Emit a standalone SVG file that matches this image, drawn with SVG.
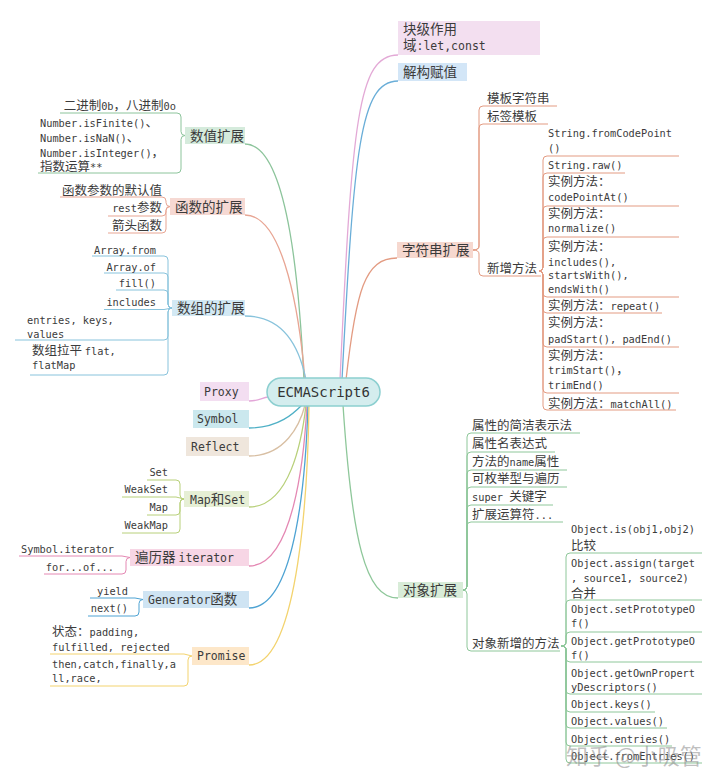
<svg xmlns="http://www.w3.org/2000/svg" width="720" height="784" viewBox="0 0 720 784">
<style>
.m{font-family:"DejaVu Sans Mono","Noto Sans CJK SC",monospace;font-size:11.5px;fill:#3b3b3b}
.l{font-family:"DejaVu Sans Mono","Noto Sans CJK SC",monospace;font-size:10.3px;fill:#3b3b3b}
.m .c,.mc{font-family:"Noto Sans CJK SC",sans-serif;font-size:13.5px;fill:#3b3b3b}
.l .c,.lc{font-family:"Noto Sans CJK SC",sans-serif;font-size:12.5px;fill:#3b3b3b}
.e{text-anchor:end}
.k{fill:none;stroke-width:1.3}
.b{fill:none;stroke-width:1}
.ctr{font-family:"DejaVu Sans Mono",monospace;font-size:14px;fill:#333;text-anchor:middle}
</style>
<rect width="720" height="784" fill="#fff"/>
<g id="connectors">
  <path class="k" stroke="#e3a9d6" d="M340 380 C352 120 358 55 398 55"/>
  <path class="k" stroke="#6aaed8" d="M342 380 C354 150 360 81 398 81"/>
  <path class="k" stroke="#e39b82" d="M346 380 C356 290 365 258 397 258"/>
  <path class="k" stroke="#8ec79a" d="M343 405 C352 540 365 598 398 598"/>
  <path class="k" stroke="#8cc49b" d="M245 144 C290 144 300 300 304 380"/>
  <path class="k" stroke="#e8a593" d="M245 215 C285 215 300 320 305 380"/>
  <path class="k" stroke="#88c3dc" d="M245 316 C285 316 300 350 306 380"/>
  <path class="k" stroke="#e3a6d8" d="M249 401 C258 401 262 398 268 397"/>
  <path class="k" stroke="#4fb0c6" d="M249 428 C280 428 295 412 303 404"/>
  <path class="k" stroke="#d8bfa3" d="M249 456 C285 456 300 425 305 405"/>
  <path class="k" stroke="#b8d07a" d="M249 507 C290 507 302 440 306 405"/>
  <path class="k" stroke="#e488b3" d="M249 566 C293 566 304 460 307 405"/>
  <path class="k" stroke="#4ea3d3" d="M249 608 C297 608 306 470 308 405"/>
  <path class="k" stroke="#f3d36e" d="M249 665 C300 665 308 480 309 405"/>
  <!-- 数值扩展 -->
  <g stroke="#8cc49b">
    <path class="b" d="M185 135.5 Q181 135.5 181 131.5 L181 117 Q181 113 177 113 H60"/>
    <path class="b" d="M185 135.5 Q181 135.5 181 139.5 L181 169 Q181 173 177 173 H38"/>
  </g>
  <!-- 函数的扩展 -->
  <g stroke="#e8a593">
    <path class="b" d="M170 206.5 Q166 206.5 166 202.5 L166 201 Q166 197 162 197 H60"/>
    <path class="b" d="M170 206.5 Q166 206.5 166 210.5 L166 212 Q166 216 162 216 H108"/>
    <path class="b" d="M170 206.5 Q166 206.5 166 210.5 L166 229 Q166 233 162 233 H108"/>
  </g>
  <!-- 数组的扩展 -->
  <g stroke="#88c3dc">
    <path class="b" d="M172 308 Q168 308 168 304 L168 260 Q168 256 164 256 H92"/>
    <path class="b" d="M172 308 Q168 308 168 304 L168 277 Q168 273 164 273 H104"/>
    <path class="b" d="M172 308 Q168 308 168 304 L168 294 Q168 290 164 290 H116"/>
    <path class="b" d="M172 308 L164 309.5 H104"/>
    <path class="b" d="M172 308 Q168 308 168 312 L168 336 Q168 340 164 340 H15"/>
    <path class="b" d="M172 308 Q168 308 168 312 L168 371 Q168 375 164 375 H30"/>
  </g>
  <!-- Map和Set -->
  <g stroke="#b8d07a">
    <path class="b" d="M184 499 Q180 499 180 495 L180 484 Q180 480 176 480 H147"/>
    <path class="b" d="M184 499 L176 497 H122"/>
    <path class="b" d="M184 499 Q180 499 180 503 L180 511 Q180 515 176 515 H147"/>
    <path class="b" d="M184 499 Q180 499 180 503 L180 529 Q180 533 176 533 H122"/>
  </g>
  <!-- 遍历器 -->
  <g stroke="#e488b3">
    <path class="b" d="M130 557.5 L122 556 H19"/>
    <path class="b" d="M130 557.5 Q126 557.5 126 561.5 L126 570 Q126 574 122 574 H44"/>
  </g>
  <!-- Generator -->
  <g stroke="#4ea3d3">
    <path class="b" d="M143 599.5 L135 598 H90"/>
    <path class="b" d="M143 599.5 Q139 599.5 139 603.5 L139 612 Q139 616 135 616 H88"/>
  </g>
  <!-- Promise -->
  <g stroke="#f3d36e">
    <path class="b" d="M192 656 L184 654 H50"/>
    <path class="b" d="M192 656 Q188 656 188 660 L188 682 Q188 686 184 686 H50"/>
  </g>
  <!-- 字符串扩展 -->
  <g stroke="#e39b82">
    <path class="b" d="M473 250 Q479 250 479 246 L479 110 Q479 106 483 106 H557"/>
    <path class="b" d="M473 250 Q479 250 479 246 L479 128 Q479 124 483 124 H548"/>
    <path class="b" d="M473 250 Q479 250 479 254 L479 272 Q479 276 483 276 H541"/>
    <path class="b" d="M539 271 Q543 271 543 267 L543 160 Q543 156 547 156 H679"/>
    <path class="b" d="M539 271 Q543 271 543 267 L543 177 Q543 173 547 173 H625"/>
    <path class="b" d="M539 271 Q543 271 543 267 L543 210 Q543 206 547 206 H679"/>
    <path class="b" d="M539 271 Q543 271 543 267 L543 241 Q543 237 547 237 H679"/>
    <path class="b" d="M539 271 Q543 271 543 275 L543 293 Q543 297 547 297 H679"/>
    <path class="b" d="M539 271 Q543 271 543 275 L543 309 Q543 313 547 313 H662"/>
    <path class="b" d="M539 271 Q543 271 543 275 L543 343 Q543 347 547 347 H679"/>
    <path class="b" d="M539 271 Q543 271 543 275 L543 389 Q543 393 547 393 H679"/>
    <path class="b" d="M539 271 Q543 271 543 275 L543 406 Q543 410 547 410 H676"/>
  </g>
  <!-- 对象扩展 -->
  <g stroke="#8ec79a">
    <path class="b" d="M463 590 Q467 590 467 586 L467 437 Q467 433 471 433 H580"/>
    <path class="b" d="M463 590 Q467 590 467 586 L467 456 Q467 452 471 452 H555"/>
    <path class="b" d="M463 590 Q467 590 467 586 L467 474 Q467 470 471 470 H567"/>
    <path class="b" d="M463 590 Q467 590 467 586 L467 491 Q467 487 471 487 H567"/>
    <path class="b" d="M463 590 Q467 590 467 586 L467 509 Q467 505 471 505 H553"/>
    <path class="b" d="M463 590 Q467 590 467 586 L467 526 Q467 522 471 522 H563"/>
    <path class="b" d="M463 590 Q467 590 467 594 L467 647 Q467 651 471 651 H560"/>
    <path class="b" d="M561 646 Q566 646 566 642 L566 557 Q566 553 570 553 H702"/>
    <path class="b" d="M561 646 Q566 646 566 642 L566 604 Q566 600 570 600 H702"/>
    <path class="b" d="M561 646 Q566 646 566 642 L566 636 Q566 632 570 632 H702"/>
    <path class="b" d="M561 646 Q566 646 566 650 L566 658 Q566 662 570 662 H702"/>
    <path class="b" d="M561 646 Q566 646 566 650 L566 690 Q566 694 570 694 H702"/>
    <path class="b" d="M561 646 Q566 646 566 650 L566 708 Q566 712 570 712 H655"/>
    <path class="b" d="M561 646 Q566 646 566 650 L566 724 Q566 728 570 728 H667"/>
    <path class="b" d="M561 646 Q566 646 566 650 L566 742 Q566 746 570 746 H672"/>
    <path class="b" d="M561 646 Q566 646 566 650 L566 759 Q566 763 570 763 H702"/>
  </g>
</g>
<g id="root">
  <rect x="267" y="378" width="113" height="28" rx="14" fill="#d4edee" stroke="#8ccfd0" stroke-width="1.5"/>
  <text class="ctr" x="323.5" y="397">ECMAScript6</text>
</g>
<g id="block-scope">
  <rect x="398" y="21" width="142" height="34" fill="#f3dff0"/>
  <text class="mc" x="403" y="34">块级作用</text>
  <text class="m" x="403" y="50"><tspan class="c">域</tspan>:let,const</text>
</g>
<g id="destructuring">
  <rect x="398" y="63" width="69" height="18" fill="#d3e6f7"/>
  <text class="mc" x="403" y="77">解构赋值</text>
</g>
<g id="string-ext">
  <rect x="397" y="242" width="76" height="16" fill="#f6d8cf"/>
  <text class="mc" x="402" y="255">字符串扩展</text>
  <text class="lc" x="487" y="102.5">模板字符串</text>
  <text class="lc" x="487" y="120.5">标签模板</text>
  <text class="lc" x="487" y="272.5">新增方法</text>
  <text class="l" x="548" y="136.5">String.fromCodePoint</text>
  <text class="l" x="548" y="151.5">()</text>
  <text class="l" x="548" y="168.5">String.raw()</text>
  <text class="lc" x="548" y="185.5">实例方法：</text>
  <text class="l" x="548" y="200.5">codePointAt()</text>
  <text class="lc" x="548" y="217.5">实例方法：</text>
  <text class="l" x="548" y="231.5">normalize()</text>
  <text class="lc" x="548" y="250.5">实例方法：</text>
  <text class="l" x="548" y="265.5">includes(),</text>
  <text class="l" x="548" y="278.5">startsWith(),</text>
  <text class="l" x="548" y="292.5">endsWith()</text>
  <text class="l" x="548" y="309.5"><tspan class="c">实例方法：</tspan>repeat()</text>
  <text class="lc" x="548" y="326.5">实例方法：</text>
  <text class="l" x="548" y="342.5">padStart(), padEnd()</text>
  <text class="lc" x="548" y="359.5">实例方法：</text>
  <text class="l" x="548" y="373.5">trimStart()<tspan class="c">，</tspan></text>
  <text class="l" x="548" y="388.5">trimEnd()</text>
  <text class="l" x="548" y="407.5"><tspan class="c">实例方法：</tspan>matchAll()</text>
</g>
<g id="object-ext">
  <rect x="398" y="582" width="65" height="16" fill="#d8ecd8"/>
  <text class="mc" x="403" y="595">对象扩展</text>
  <text class="lc" x="472" y="429.5">属性的简洁表示法</text>
  <text class="lc" x="472" y="447.5">属性名表达式</text>
  <text class="l" x="472" y="465.5"><tspan class="c">方法的</tspan>name<tspan class="c">属性</tspan></text>
  <text class="lc" x="472" y="482.5">可枚举型与遍历</text>
  <text class="l" x="472" y="501">super <tspan class="c">关键字</tspan></text>
  <text class="l" x="472" y="518.5"><tspan class="c">扩展运算符</tspan>...</text>
  <text class="lc" x="472" y="647.5">对象新增的方法</text>
  <text class="l" x="571" y="532.5">Object.is(obj1,obj2)</text>
  <text class="lc" x="571" y="549.5">比较</text>
  <text class="l" x="571" y="566.5">Object.assign(target</text>
  <text class="l" x="571" y="581.5">, source1, source2)</text>
  <text class="lc" x="571" y="597.5">合并</text>
  <text class="l" x="571" y="612.5">Object.setPrototypeO</text>
  <text class="l" x="571" y="626.5">f()</text>
  <text class="l" x="571" y="644.5">Object.getPrototypeO</text>
  <text class="l" x="571" y="658.5">f()</text>
  <text class="l" x="571" y="676.5">Object.getOwnPropert</text>
  <text class="l" x="571" y="690.5">yDescriptors()</text>
  <text class="l" x="571" y="707.5">Object.keys()</text>
  <text class="l" x="571" y="725">Object.values()</text>
  <text class="l" x="571" y="742.5">Object.entries()</text>
  <text class="l" x="571" y="760">Object.fromEntries()</text>
</g>
<g id="number-ext">
  <rect x="185" y="127" width="60" height="17" fill="#d5ebdc"/>
  <text class="mc" x="190" y="140.5">数值扩展</text>
  <text class="l e" x="176" y="110"><tspan class="c">二进制</tspan>0b<tspan class="c">，八进制</tspan>0o</text>
  <text class="l" x="40" y="127">Number.isFinite()<tspan class="c">、</tspan></text>
  <text class="l" x="40" y="142">Number.isNaN()<tspan class="c">、</tspan></text>
  <text class="l" x="40" y="157">Number.isInteger()<tspan class="c">，</tspan></text>
  <text class="l" x="40" y="171"><tspan class="c">指数运算</tspan>**</text>
</g>
<g id="function-ext">
  <rect x="170" y="198" width="75" height="17" fill="#f6d9d3"/>
  <text class="mc" x="175" y="211.5">函数的扩展</text>
  <text class="lc e" x="162" y="194.5">函数参数的默认值</text>
  <text class="l e" x="162" y="211.5">rest<tspan class="c">参数</tspan></text>
  <text class="lc e" x="162" y="229.5">箭头函数</text>
</g>
<g id="array-ext">
  <rect x="172" y="300" width="73" height="16" fill="#d3e9f4"/>
  <text class="mc" x="177" y="312.5">数组的扩展</text>
  <text class="l e" x="156" y="253.5">Array.from</text>
  <text class="l e" x="156" y="270.5">Array.of</text>
  <text class="l e" x="156" y="286.5">fill()</text>
  <text class="l e" x="156" y="305.5">includes</text>
  <text class="l" x="27" y="323.5">entries, keys,</text>
  <text class="l" x="27" y="337.5">values</text>
  <text class="l" x="32" y="354.5"><tspan class="c">数组拉平 </tspan>flat,</text>
  <text class="l" x="32" y="368.5">flatMap</text>
</g>
<g id="proxy">
  <rect x="200" y="382" width="49" height="19" fill="#f3def1"/>
  <text class="m" x="204" y="395.5">Proxy</text>
</g>
<g id="symbol">
  <rect x="193" y="410" width="56" height="18" fill="#cbe8ee"/>
  <text class="m" x="197" y="423">Symbol</text>
</g>
<g id="reflect">
  <rect x="186" y="437" width="63" height="19" fill="#efe6dc"/>
  <text class="m" x="191" y="450.5">Reflect</text>
</g>
<g id="map-set">
  <rect x="184" y="491" width="65" height="16" fill="#e6efd5"/>
  <text class="m" x="190" y="503.5">Map<tspan class="c">和</tspan>Set</text>
  <text class="l e" x="168" y="475.5">Set</text>
  <text class="l e" x="168" y="492.5">WeakSet</text>
  <text class="l e" x="168" y="510.5">Map</text>
  <text class="l e" x="168" y="528.5">WeakMap</text>
</g>
<g id="iterator">
  <rect x="130" y="549" width="119" height="17" fill="#f7d6e5"/>
  <text class="m" x="135" y="562"><tspan class="c">遍历器 </tspan>iterator</text>
  <text class="l e" x="114" y="552.5">Symbol.iterator</text>
  <text class="l e" x="114" y="570.5">for...of...</text>
</g>
<g id="generator">
  <rect x="143" y="591" width="106" height="17" fill="#cfe4f3"/>
  <text class="m" x="148" y="604">Generator<tspan class="c">函数</tspan></text>
  <text class="l e" x="128" y="594.5">yield</text>
  <text class="l e" x="128" y="611.5">next()</text>
</g>
<g id="promise">
  <rect x="192" y="647" width="57" height="18" fill="#fde7c9"/>
  <text class="m" x="197" y="660">Promise</text>
  <text class="l" x="52" y="636"><tspan class="c">状态：</tspan>padding,</text>
  <text class="l" x="52" y="650.5">fulfilled, rejected</text>
  <text class="l" x="52" y="667.5">then,catch,finally,a</text>
  <text class="l" x="52" y="681.5">ll,race,</text>
</g>
<text x="566" y="764" font-family="Noto Sans CJK SC,sans-serif" font-size="22" fill="#8a8a8a" fill-opacity="0.55">知乎 @小吸管</text>
</svg>
